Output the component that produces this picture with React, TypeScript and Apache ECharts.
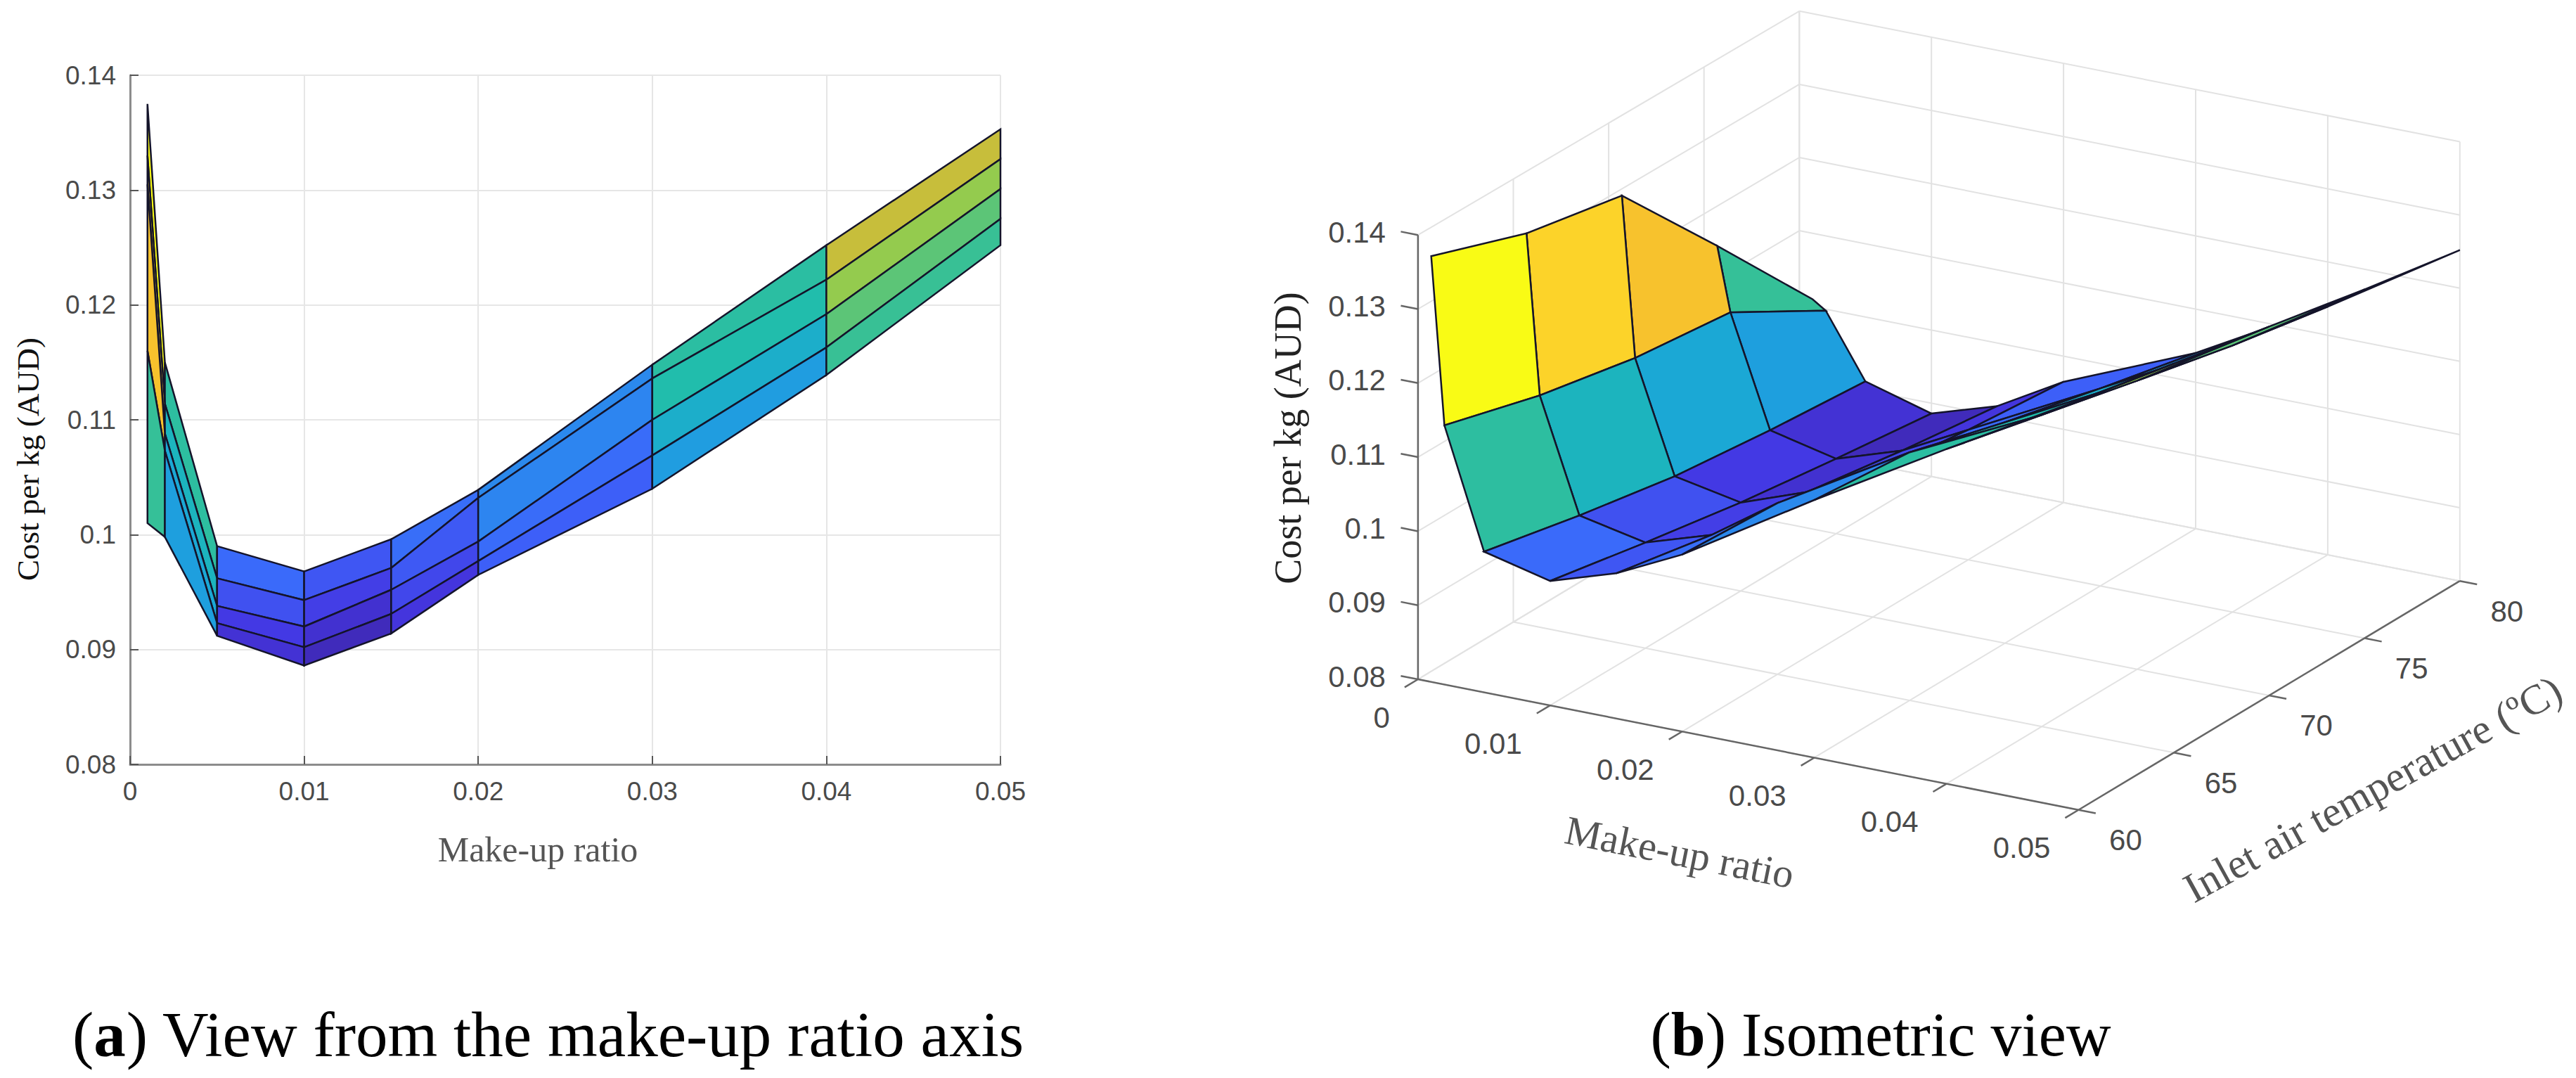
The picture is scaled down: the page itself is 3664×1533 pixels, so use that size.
import React, { useEffect, useRef } from 'react';
import * as echarts from 'echarts';

// 读图得到的数据
const makeUpRatios = [0.001, 0.002, 0.005, 0.01, 0.015, 0.02, 0.03, 0.04, 0.05];
const inletTemps = [60, 65, 70, 75, 80];
const costAt60 = [0.1375, 0.115, 0.099, 0.0968, 0.0996, 0.1039, 0.1148, 0.1252, 0.1353];
const costAt65 = [0.133, 0.1114, 0.0962, 0.0943, 0.0971, 0.1032, 0.1136, 0.1222, 0.1327];
const costAt70 = [0.1305, 0.1088, 0.0938, 0.092, 0.0952, 0.0994, 0.11, 0.1192, 0.1301];
const costAt75 = [0.116, 0.1073, 0.0923, 0.0902, 0.0931, 0.0977, 0.1069, 0.1163, 0.1275];
const costAt80 = [0.101, 0.0998, 0.0912, 0.0886, 0.0914, 0.0965, 0.104, 0.1139, 0.1252];
const costRows = [costAt60, costAt65, costAt70, costAt75, costAt80];

const ratioTicks = [0, 0.01, 0.02, 0.03, 0.04, 0.05];
const tempTicks = [60, 65, 70, 75, 80];
const costTicks = [0.08, 0.09, 0.1, 0.11, 0.12, 0.13, 0.14];

// parula 色带
const PARULA = ['#3e26a8', '#4436e2', '#3c66fb', '#2d85f0', '#1ba5da', '#1dbcb0', '#45c288', '#a0cc45', '#f0b030', '#fcd02b', '#f9fb15'];
const allCosts = costRows.flat();
const costMin = Math.min(...allCosts);
const costMax = Math.max(...allCosts);
const faceColor = (v: number) => echarts.color.lerp((v - costMin) / (costMax - costMin), PARULA);

const TICK_FONT = '"Liberation Sans", Arial, sans-serif';
const SERIF = '"Liberation Serif", "Times New Roman", serif';
const MESH = '#14142a';

// 等轴测投影（图 b），输出右侧平面坐标
const project = (x: number, t: number, z: number): number[] => {
  const dx = x / 0.01;
  const dt = (t - 60) / 5;
  return [316.9 + dx * 187.9 + dt * 135.6, 966 + dx * 37.15 - dt * 81.4 - ((z - 0.08) / 0.01) * (105.3 - dt * 0.3)];
};

// 每个面用左下角的值上色，和 surf 一样
const faces: { i: number; j: number }[] = [];
for (let j = 0; j < inletTemps.length - 1; j++) {
  for (let i = 0; i < makeUpRatios.length - 1; i++) faces.push({ i, j });
}
const facesBackToFront: { i: number; j: number }[] = [];
for (let i = 0; i < makeUpRatios.length - 1; i++) {
  for (let j = inletTemps.length - 2; j >= 0; j--) facesBackToFront.push({ i, j });
}
const faceCorners = ({ i, j }: { i: number; j: number }) => [
  [i, j],
  [i + 1, j],
  [i + 1, j + 1],
  [i, j + 1],
];

const idx = (list: any[]) => list.map((_, n) => [n, 0]);

// 左图曲面
const sideSurface = {
  type: 'custom',
  silent: true,
  data: idx(faces),
  renderItem: (params: any, api: any) => {
    const face = faces[params.dataIndex];
    return {
      type: 'polygon',
      shape: { points: faceCorners(face).map(([a, b]) => api.coord([makeUpRatios[a], costRows[b][a]])) },
      style: { fill: faceColor(costRows[face.j][face.i]), stroke: MESH, lineWidth: 2.5 },
    };
  },
};

// 右图曲面
const isoSurface = {
  type: 'custom',
  silent: true,
  xAxisIndex: 1,
  yAxisIndex: 1,
  data: idx(facesBackToFront),
  renderItem: (params: any, api: any) => {
    const face = facesBackToFront[params.dataIndex];
    return {
      type: 'polygon',
      shape: {
        points: faceCorners(face).map(([a, b]) => api.coord(project(makeUpRatios[a], inletTemps[b], costRows[b][a]))),
      },
      style: { fill: faceColor(costRows[face.j][face.i]), stroke: MESH, lineWidth: 2.5 },
    };
  },
};

const segmentSeries = (segments: number[][][], stroke: string, lineWidth: number) => ({
  type: 'custom',
  silent: true,
  xAxisIndex: 1,
  yAxisIndex: 1,
  data: idx(segments),
  renderItem: (params: any, api: any) => {
    const [a, b] = segments[params.dataIndex];
    const p = api.coord(a);
    const q = api.coord(b);
    return { type: 'line', shape: { x1: p[0], y1: p[1], x2: q[0], y2: q[1] }, style: { stroke, lineWidth } };
  },
});

const T0 = tempTicks[0];
const T1 = tempTicks[tempTicks.length - 1];
const X1 = ratioTicks[ratioTicks.length - 1];
const Z0 = costTicks[0];
const Z1 = costTicks[costTicks.length - 1];

const gridSegments: number[][][] = [
  ...ratioTicks.map((x) => [project(x, T0, Z0), project(x, T1, Z0)]),
  ...tempTicks.map((t) => [project(0, t, Z0), project(X1, t, Z0)]),
  ...tempTicks.map((t) => [project(0, t, Z0), project(0, t, Z1)]),
  ...ratioTicks.map((x) => [project(x, T1, Z0), project(x, T1, Z1)]),
  ...costTicks.map((z) => [project(0, T0, z), project(0, T1, z)]),
  ...costTicks.map((z) => [project(0, T1, z), project(X1, T1, z)]),
];

const axisSegments: number[][][] = [
  [project(0, T0, Z0), project(0, T0, Z1)],
  [project(0, T0, Z0), project(X1, T0, Z0)],
  [project(X1, T0, Z0), project(X1, T1, Z0)],
  ...costTicks.map((z) => [project(0, T0, z), project(-0.0013, T0, z)]),
  ...ratioTicks.map((x) => [project(x, T0, Z0), project(x, T0 - 0.7, Z0)]),
  ...tempTicks.map((t) => [project(X1, t, Z0), project(X1 + 0.0013, t, Z0)]),
];

type PlaneLabel = { text: string; at: number[]; align: string };
const planeLabels: PlaneLabel[] = [
  ...costTicks.map((z) => {
    const p = project(0, T0, z);
    return { text: String(z), at: [p[0] - 46, p[1] - 4], align: 'right' };
  }),
  ...ratioTicks.map((x) => {
    const p = project(x, T0, Z0);
    return { text: String(x), at: [p[0] - 40, p[1] + 54], align: 'right' };
  }),
  ...tempTicks.map((t) => {
    const p = project(X1, t, Z0);
    return { text: String(t), at: [p[0] + 67, p[1] + 43], align: 'center' };
  }),
];

const isoLabels = {
  type: 'custom',
  silent: true,
  xAxisIndex: 1,
  yAxisIndex: 1,
  data: idx(planeLabels),
  renderItem: (params: any, api: any) => {
    const label = planeLabels[params.dataIndex];
    const p = api.coord(label.at);
    return {
      type: 'text',
      x: p[0],
      y: p[1],
      style: {
        text: label.text,
        fill: '#4a4a4a',
        font: `42px ${TICK_FONT}`,
        textAlign: label.align,
        textVerticalAlign: 'middle',
      },
    };
  },
};

const serifLabel = (text: string, x: number, y: number, size: number, rotation: number, fill: string) => ({
  type: 'text',
  x,
  y,
  rotation,
  style: { text, fill, font: `${size}px ${SERIF}`, textAlign: 'center', textVerticalAlign: 'middle' },
});

const caption = (letter: string, rest: string, x: number, y: number, size: number) => ({
  type: 'text',
  x,
  y,
  style: {
    text: `({b|${letter}}) ${rest}`,
    fill: '#000',
    font: `${size}px ${SERIF}`,
    textAlign: 'center',
    textVerticalAlign: 'middle',
    rich: { b: { font: `bold ${size}px ${SERIF}`, fill: '#000' } },
  },
});

const sideAxisLine = { lineStyle: { color: '#8c8c8c', width: 3 } };
const sideTick = { inside: true, length: 12, lineStyle: { color: '#555', width: 2 } };
const sideSplit = { show: true, lineStyle: { color: '#e6e6e6', width: 2 } };
const sideLabel = { color: '#4a4a4a', fontSize: 37, fontFamily: TICK_FONT, margin: 20 };

const option = {
  animation: false,
  backgroundColor: '#fff',
  grid: [
    { left: 185, top: 107, width: 1238, height: 980 },
    { left: 1700, top: 0, width: 1964, height: 1533 },
  ],
  xAxis: [
    {
      type: 'value',
      gridIndex: 0,
      min: 0,
      max: 0.05,
      interval: 0.01,
      axisLine: sideAxisLine,
      axisTick: sideTick,
      splitLine: sideSplit,
      axisLabel: sideLabel,
    },
    { type: 'value', gridIndex: 1, min: 0, max: 1964, show: false },
  ],
  yAxis: [
    {
      type: 'value',
      gridIndex: 0,
      min: 0.08,
      max: 0.14,
      interval: 0.01,
      axisLine: { show: true, ...sideAxisLine },
      axisTick: { show: true, ...sideTick },
      splitLine: sideSplit,
      axisLabel: sideLabel,
    },
    { type: 'value', gridIndex: 1, min: 0, max: 1533, inverse: true, show: false },
  ],
  graphic: [
    serifLabel('Cost per kg (AUD)', 40, 653, 45, Math.PI / 2, '#111'),
    serifLabel('Make-up ratio', 765, 1208, 50, 0, '#555'),
    serifLabel('Cost per kg (AUD)', 1832, 623, 54, Math.PI / 2, '#222'),
    serifLabel('Make-up ratio', 2389, 1212, 58, -(11.3 * Math.PI) / 180, '#555'),
    serifLabel('Inlet air temperature (ºC)', 3375, 1122, 60, (28.8 * Math.PI) / 180, '#555'),
    caption('a', 'View from the make-up ratio axis', 780, 1471, 91),
    caption('b', 'Isometric view', 2675, 1471, 88),
  ],
  series: [
    sideSurface,
    segmentSeries(gridSegments, '#e2e2e2', 2),
    segmentSeries(axisSegments, '#666', 2.5),
    isoSurface,
    isoLabels,
  ],
};

export default function App() {
  const chartRef = useRef<HTMLDivElement>(null);

  useEffect(() => {
    if (!chartRef.current) return;
    const chart = echarts.init(chartRef.current, undefined, { renderer: 'svg' });
    chart.setOption(option as any);
    return () => chart.dispose();
  }, []);

  return <div ref={chartRef} style={{ position: 'absolute', left: 0, top: 0, width: 3664, height: 1533 }} />;
}
